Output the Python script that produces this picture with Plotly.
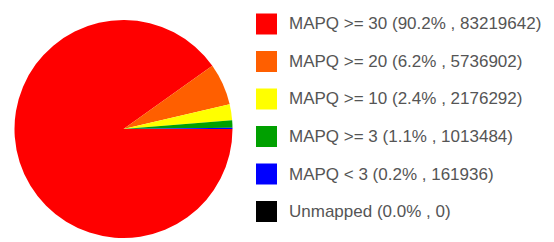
import plotly.graph_objects as go

categories = ["MAPQ >= 30", "MAPQ >= 20", "MAPQ >= 10", "MAPQ >= 3", "MAPQ < 3", "Unmapped"]
counts = [83219642, 5736902, 2176292, 1013484, 161936, 0]
colors = ["#FF0000", "#FF5F00", "#FFFF00", "#00A000", "#0000FF", "#000000"]

# the page body has an 8px margin, so the figure is drawn at (8, 8)
OFF = 8
W, H = 554 - OFF, 242 - OFF


def px(x):
    return (x - OFF) / W


def py(y):
    return 1 - (y - OFF) / H


total = sum(counts)
labels = [f"{c} ({100.0 * v / total:.1f}% , {v})" for c, v in zip(categories, counts)]

fig = go.Figure()
fig.add_trace(go.Pie(
    labels=categories,
    values=counts,
    marker=dict(colors=colors, line=dict(width=0)),
    sort=False,
    direction="clockwise",
    rotation=90,
    textinfo="none",
    showlegend=False,
    domain=dict(x=[px(14), px(233)], y=[py(238), py(20)]),
))

shapes = []
annotations = []
row0, gap = 24, 37.5
for i, (lab, col) in enumerate(zip(labels, colors)):
    cy = row0 + gap * i
    shapes.append(dict(type="rect", xref="paper", yref="paper",
                       x0=px(256), x1=px(277),
                       y0=py(cy + 10.5), y1=py(cy - 10.5),
                       fillcolor=col, line=dict(width=0)))
    annotations.append(dict(text=lab, xref="paper", yref="paper",
                            x=px(287), y=py(cy), xanchor="left", yanchor="middle",
                            showarrow=False,
                            font=dict(family="Liberation Sans, Arial", size=17, color="#555555")))

fig.update_layout(
    width=W, height=H,
    margin=dict(l=0, r=0, t=0, b=0),
    paper_bgcolor="white", plot_bgcolor="white",
    shapes=shapes, annotations=annotations,
)
fig.write_html("out.html")
